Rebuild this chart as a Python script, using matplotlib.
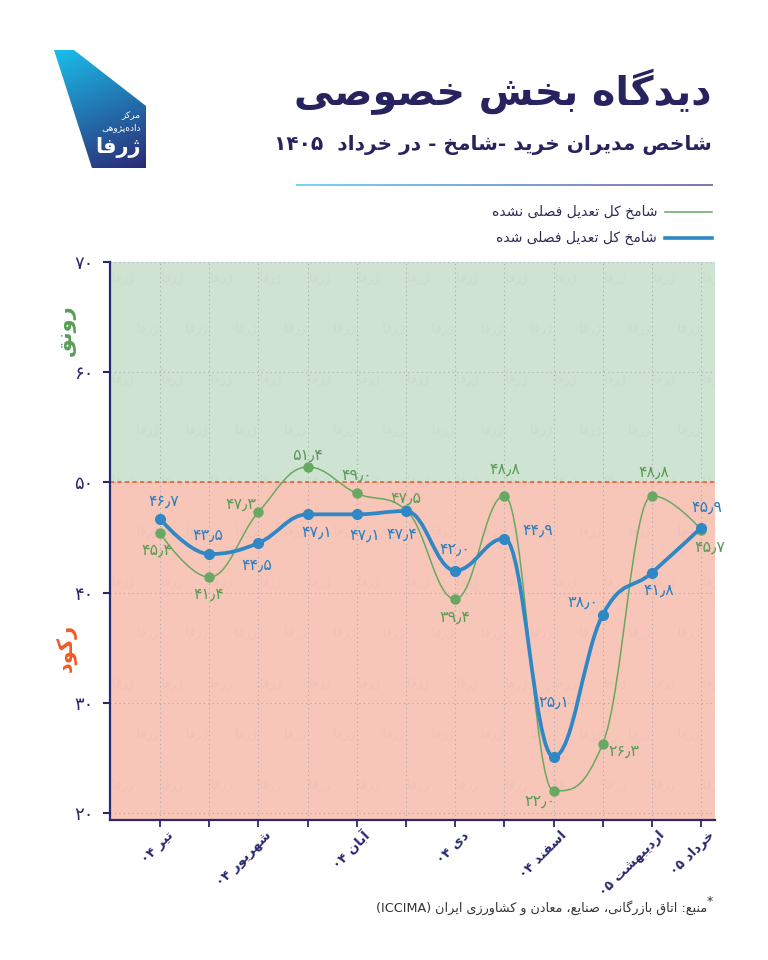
import re
import numpy as np
import matplotlib
matplotlib.use('Agg')
import matplotlib.pyplot as plt
from matplotlib.path import Path
from matplotlib.patches import PathPatch, Polygon
from matplotlib.collections import LineCollection, PathCollection
from matplotlib.textpath import TextPath
from matplotlib.transforms import Affine2D
from matplotlib import font_manager
from matplotlib.ft2font import FT2Font

# ---------------------------------------------------------------- data
months = ['تیر ۰۴', 'مرداد ۰۴', 'شهریور ۰۴', 'مهر ۰۴', 'آبان ۰۴', 'آذر ۰۴',
          'دی ۰۴', 'بهمن ۰۴', 'اسفند ۰۴', 'فروردین ۰۵', 'اردیبهشت ۰۵', 'خرداد ۰۵']
shown_months = [0, 2, 4, 6, 8, 10, 11]
pmi_raw = [45.4, 41.4, 47.3, 51.4, 49.0, 47.5, 39.4, 48.8, 22.0, 26.3, 48.8, 45.7]
pmi_sa = [46.7, 43.5, 44.5, 47.1, 47.1, 47.4, 42.0, 44.9, 25.1, 38.0, 41.8, 45.9]
y_ticks = [20, 30, 40, 50, 60, 70]

title = 'دیدگاه بخش خصوصی'
subtitle = 'شاخص مدیران خرید -شامخ - در خرداد  ۱۴۰۵'
legend_raw = 'شامخ کل تعدیل فصلی نشده'
legend_sa = 'شامخ کل تعدیل فصلی شده'
boom = 'رونق'
slump = 'رکود'
source = 'منبع: اتاق بازرگانی، صنایع، معادن و کشاورزی ایران (ICCIMA)'

# label offsets in pixels (dx, dy down)
raw_off = [(-3, 17), (0, 17), (-18, -8), (0, -12), (0, -18), (0, -12),
           (0, 18), (0, -26), (-14, 10), (21, 8), (2, -23), (9, 17)]
sa_off = [(4, -18), (-1, -19), (-2, 22), (9, 18), (8, 21), (-4, 23),
          (0, -21), (33, -8), (0, -55), (-20, -12), (7, 17), (6, -20)]

navy = '#29286e'
green = '#69a862'
blue = '#2f87c5'

# ---------------------------------------------------------------- persian text helpers
REG = font_manager.findfont(font_manager.FontProperties(family='DejaVu Sans'))
BLD = font_manager.findfont(font_manager.FontProperties(family='DejaVu Sans', weight='bold'))
_fr, _fb = FT2Font(REG), FT2Font(BLD)


def ok(cp):
    return _fr.get_char_index(cp) != 0 and _fb.get_char_index(cp) != 0


DUAL = {'ئ': 0xFE89, 'ب': 0xFE8F, 'ت': 0xFE95, 'ث': 0xFE99, 'ج': 0xFE9D, 'ح': 0xFEA1,
        'خ': 0xFEA5, 'س': 0xFEB1, 'ش': 0xFEB5, 'ص': 0xFEB9, 'ض': 0xFEBD, 'ط': 0xFEC1,
        'ظ': 0xFEC5, 'ع': 0xFEC9, 'غ': 0xFECD, 'ف': 0xFED1, 'ق': 0xFED5, 'ك': 0xFED9,
        'ل': 0xFEDD, 'م': 0xFEE1, 'ن': 0xFEE5, 'ه': 0xFEE9, 'ي': 0xFEF1, 'پ': 0xFB56,
        'چ': 0xFB7A, 'ک': 0xFB8E, 'گ': 0xFB92, 'ی': 0xFBFC}
RIGHT = {'آ': 0xFE81, 'أ': 0xFE83, 'ؤ': 0xFE85, 'إ': 0xFE87, 'ا': 0xFE8D, 'ة': 0xFE93,
         'د': 0xFEA9, 'ذ': 0xFEAB, 'ر': 0xFEAD, 'ز': 0xFEAF, 'و': 0xFEED, 'ى': 0xFEEF,
         'ژ': 0xFB8A}
LAM_ALEF = {'ا': (0xFEFB, 0xFEFC), 'آ': (0xFEF5, 0xFEF6), 'أ': (0xFEF7, 0xFEF8), 'إ': (0xFEF9, 0xFEFA)}


def form(ch, k):
    cp = (DUAL.get(ch) or RIGHT.get(ch)) + k
    if ok(cp):
        return chr(cp)
    if ch == 'ی':
        return chr([0xFEEF, 0xFEF0, 0xFEF3, 0xFEF4][k])
    if ch == 'ک' and k >= 2:
        return chr(0xFEDB + k - 2)
    return ch


def shape(s):
    out, i, n = [], 0, len(s)
    while i < n:
        ch = s[i]
        if ch not in DUAL and ch not in RIGHT:
            if ch != '\u200c':
                out.append(ch)
            i += 1
            continue
        pj = i > 0 and s[i - 1] in DUAL
        if ch == 'ل' and i + 1 < n and s[i + 1] in LAM_ALEF:
            iso, fin = LAM_ALEF[s[i + 1]]
            out.append(chr(fin if pj else iso))
            i += 2
            continue
        nj = ch in DUAL and i + 1 < n and (s[i + 1] in DUAL or s[i + 1] in RIGHT)
        if ch in RIGHT:
            k = 1 if pj else 0
        else:
            k = {(False, False): 0, (True, False): 1, (False, True): 2, (True, True): 3}[(pj, nj)]
        out.append(form(ch, k))
        i += 1
    return ''.join(out)


LTR = re.compile(r'[0-9A-Za-z\u06F0-\u06F9\u066B]+')
MIRROR = str.maketrans('()', ')(')


def fa(s):
    s = shape(s)
    parts, pos = [], 0
    for m in LTR.finditer(s):
        if m.start() > pos:
            parts.append(s[pos:m.start()][::-1].translate(MIRROR))
        parts.append(m.group())
        pos = m.end()
    if pos < len(s):
        parts.append(s[pos:][::-1].translate(MIRROR))
    return ''.join(parts[::-1])


def fa_num(v, dec=1):
    t = f'{v:.{dec}f}'.replace('.', '\u066B')
    return t.translate(str.maketrans('0123456789', '۰۱۲۳۴۵۶۷۸۹'))


def spline_path(xs, ys, smoothing=1.5):
    n = len(xs)
    lc = [(xs[i], ys[i]) for i in range(n)]
    rc = [(xs[i], ys[i]) for i in range(n)]
    d = smoothing + 1
    for i in range(1, n - 1):
        x, y = xs[i], ys[i]
        lx, ly, nx, ny = xs[i - 1], ys[i - 1], xs[i + 1], ys[i + 1]
        lcx, lcy = (smoothing * x + lx) / d, (smoothing * y + ly) / d
        rcx, rcy = (smoothing * x + nx) / d, (smoothing * y + ny) / d
        corr = (rcy - lcy) * (rcx - x) / (rcx - lcx) + y - rcy
        lcy += corr
        rcy += corr
        if lcy > ly and lcy > y:
            lcy = max(ly, y); rcy = 2 * y - lcy
        elif lcy < ly and lcy < y:
            lcy = min(ly, y); rcy = 2 * y - lcy
        if rcy > ny and rcy > y:
            rcy = max(ny, y); lcy = 2 * y - rcy
        elif rcy < ny and rcy < y:
            rcy = min(ny, y); lcy = 2 * y - rcy
        lc[i], rc[i] = (lcx, lcy), (rcx, rcy)
    verts, codes = [(xs[0], ys[0])], [Path.MOVETO]
    for i in range(n - 1):
        verts += [rc[i], lc[i + 1], (xs[i + 1], ys[i + 1])]
        codes += [Path.CURVE4] * 3
    return Path(verts, codes)


plt.rcParams['font.family'] = ['DejaVu Sans']

# ---------------------------------------------------------------- chart
fig = plt.figure(figsize=(7.68, 9.6), dpi=100)
ax = fig.add_axes([110 / 768, 1 - 820 / 960, 605 / 768, 558 / 960])
x = np.arange(len(months))
ymin = 19.36
ax.set_xlim(-1.017, 11.28)
ax.set_ylim(ymin, 70)
ax.axhspan(50, 70, color='#cfe3d3', lw=0, zorder=0)
ax.axhspan(ymin, 50, color='#f8c6b9', lw=0, zorder=0)

# faint watermark pattern (logo outline shapes, not text)
mark = TextPath((0, 0), fa('ژرفا'), size=9, prop=font_manager.FontProperties(family='DejaVu Sans'))
bb = mark.get_extents()
mark = mark.transformed(Affine2D().translate(-(bb.x0 + bb.x1) / 2, -(bb.y0 + bb.y1) / 2))
offs = []
for r, yy in enumerate(np.arange(22.5, 70, 4.6)):
    for xx in np.arange(-0.75 + 0.5 * (r % 2), 11.3, 1.0):
        offs.append((xx, yy))
wm = PathCollection([mark], offsets=offs, offset_transform=ax.transData,
                    transform=Affine2D().scale(fig.dpi / 72), facecolors='#7a7a7a',
                    edgecolors='none', alpha=0.07, zorder=0.5)
ax.add_collection(wm)

ax.set_xticks(x)
ax.set_yticks(y_ticks)
ax.grid(True, ls=(0, (1, 3)), color='#a9a9a9', lw=0.8, zorder=1)
ax.axhline(50, color='#ef5a2e', lw=1.2, ls=(0, (2.5, 2)), zorder=2)

ax.add_patch(PathPatch(spline_path(x, pmi_raw), fc='none', ec=green, lw=1.1, zorder=3))
ax.plot(x, pmi_raw, 'o', color=green, ms=6.5, zorder=4)
ax.add_patch(PathPatch(spline_path(x, pmi_sa), fc='none', ec=blue, lw=2.7, zorder=5))
ax.plot(x, pmi_sa, 'o', color=blue, ms=7, zorder=6)

for i in range(len(x)):
    dx, dy = raw_off[i]
    ax.annotate(fa_num(pmi_raw[i]), (x[i], pmi_raw[i]), xytext=(dx * 0.72, -dy * 0.72),
                textcoords='offset points', ha='center', va='center', fontsize=11.5,
                color='#5c9c57', zorder=7)
    dx, dy = sa_off[i]
    ax.annotate(fa_num(pmi_sa[i]), (x[i], pmi_sa[i]), xytext=(dx * 0.72, -dy * 0.72),
                textcoords='offset points', ha='center', va='center', fontsize=11.5,
                color='#2d7fbf', zorder=7)

for s in ['top', 'right']:
    ax.spines[s].set_visible(False)
for s in ['left', 'bottom']:
    ax.spines[s].set_color(navy)
    ax.spines[s].set_linewidth(1.6)
ax.tick_params(axis='y', length=5, width=1.5, color=navy, labelcolor=navy, labelsize=13, pad=7)
ax.tick_params(axis='x', length=5, width=1.3, color=navy)
ax.set_yticklabels([fa_num(v, 0) for v in y_ticks])
ax.set_xticklabels([])
for i in shown_months:
    ax.annotate(fa(months[i]), xy=(x[i], 0), xycoords=('data', 'axes fraction'),
                xytext=(8, -9.5), textcoords='offset points', rotation=45,
                rotation_mode='anchor', ha='right', va='center', fontsize=9.5,
                fontweight='bold', color=navy, annotation_clip=False)

# ---------------------------------------------------------------- overlay in pixel coords
ov = fig.add_axes([0, 0, 1, 1], zorder=10)
ov.set_xlim(0, 768)
ov.set_ylim(960, 0)
ov.axis('off')

ov.text(66, 330, fa(boom), rotation=90, ha='center', va='center', fontsize=15,
        fontweight='bold', color='#5a9e58')
ov.text(66, 648, fa(slump), rotation=90, ha='center', va='center', fontsize=15,
        fontweight='bold', color='#f05a28')

ov.text(712, 92, fa(title), ha='right', va='center', fontsize=28.5, fontweight='bold', color='#27235f')
ov.text(712, 145, fa(subtitle), ha='right', va='center', fontsize=14.5, fontweight='bold',
        color='#27235f')

# gradient rule
gx = np.linspace(296, 713, 120)
segs = [[(gx[i], 185), (gx[i + 1], 185)] for i in range(len(gx) - 1)]
c0, c1 = np.array([0.36, 0.80, 0.94]), np.array([0.42, 0.36, 0.62])
cols = [c0 + (c1 - c0) * t for t in np.linspace(0, 1, len(segs))]
ov.add_collection(LineCollection(segs, colors=cols, lw=1.2))

# legend
ov.plot([665, 712], [212, 212], color=green, lw=1.1)
ov.plot([665, 712], [238, 238], color=blue, lw=2.6)
ov.text(657, 212, fa(legend_raw), ha='right', va='center', fontsize=10, color='#2b2b55')
ov.text(657, 238, fa(legend_sa), ha='right', va='center', fontsize=10, color='#2b2b55')

# logo
logo = Polygon([(54, 50), (74, 50), (146, 106), (146, 168), (92, 168)], closed=True,
               fc='none', ec='none')
ov.add_patch(logo)
gy, gxx = np.mgrid[0:1:120j, 0:1:100j]
t = np.clip(0.75 * gy + 0.25 * gxx, 0, 1)[..., None]
top, bot = np.array([0.10, 0.76, 0.93]), np.array([0.17, 0.15, 0.45])
img = top + (bot - top) * t
im = ov.imshow(img, extent=(50, 150, 170, 48), aspect='auto', zorder=2)
im.set_clip_path(logo)
ov.set_xlim(0, 768)
ov.set_ylim(960, 0)
ov.text(141, 116, fa('مرکز'), ha='right', va='center', fontsize=6.5, color='white', zorder=3)
ov.text(141, 128, fa('داده\u200cپژوهی'), ha='right', va='center', fontsize=6.5, color='white', zorder=3)
ov.text(141, 148, fa('ژرفا'), ha='right', va='center', fontsize=15, fontweight='bold',
        color='white', zorder=3)

# source
ov.text(707, 908, fa(source), ha='right', va='center', fontsize=9.2, color='#333333')
ov.text(713, 902, '*', ha='right', va='center', fontsize=9, color='#333333')

fig.savefig('out.png', dpi=100)
